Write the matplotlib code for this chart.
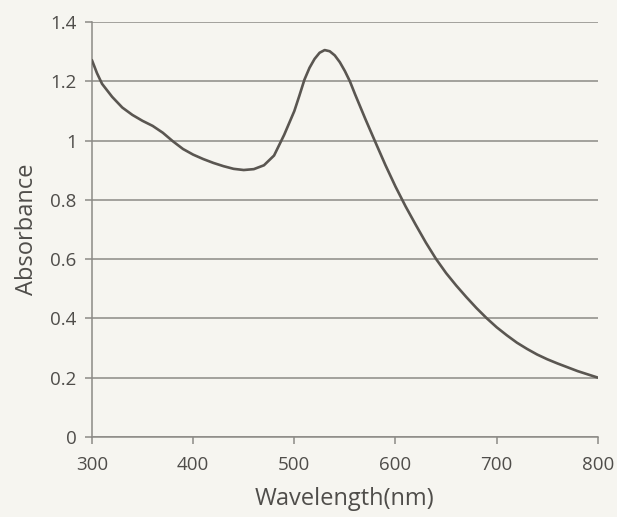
import matplotlib.pyplot as plt

# absorbance spectrum
wavelength = [300, 305, 310, 320, 330, 340, 350, 360, 370, 380, 390, 400, 410,
              420, 430, 440, 450, 460, 470, 480, 490, 500, 505, 510, 515, 520,
              525, 530, 535, 540, 545, 550, 555, 560, 570, 580, 590, 600, 610,
              620, 630, 640, 650, 660, 670, 680, 690, 700, 710, 720, 730, 740,
              750, 760, 770, 780, 790, 800]
absorbance = [1.272, 1.228, 1.192, 1.148, 1.112, 1.087, 1.067, 1.050, 1.027,
              0.998, 0.972, 0.953, 0.938, 0.925, 0.914, 0.905, 0.901, 0.904,
              0.917, 0.950, 1.020, 1.100, 1.152, 1.206, 1.246, 1.276, 1.297,
              1.306, 1.302, 1.288, 1.265, 1.235, 1.200, 1.157, 1.075, 0.996,
              0.918, 0.845, 0.778, 0.716, 0.656, 0.601, 0.553, 0.511, 0.472,
              0.435, 0.401, 0.370, 0.343, 0.318, 0.297, 0.278, 0.262, 0.248,
              0.235, 0.222, 0.211, 0.200]

x_ticks = [300, 400, 500, 600, 700, 800]
y_ticks = [0, 0.2, 0.4, 0.6, 0.8, 1.0, 1.2, 1.4]
y_labels = ["0", "0.2", "0.4", "0.6", "0.8", "1", "1.2", "1.4"]

plt.rcParams['font.family'] = ['Open Sans', 'DejaVu Sans']

bg = "#f6f5f0"
grid_col = "#8c8a86"
text_col = "#4f4d4a"

fig = plt.figure(figsize=(6.17, 5.17), dpi=100, facecolor=bg)
ax = fig.add_axes([0.149, 0.155, 0.820, 0.802])
ax.set_facecolor(bg)

ax.plot(wavelength, absorbance, color="#5a5651", linewidth=1.9,
        solid_capstyle="round", solid_joinstyle="round", zorder=3)

ax.set_xlim(300, 800)
ax.set_ylim(0, 1.4)
ax.set_xticks(x_ticks)
ax.set_yticks(y_ticks)
ax.set_yticklabels(y_labels)

ax.yaxis.grid(True, color=grid_col, linewidth=1.1)
ax.set_axisbelow(True)

for side in ["top", "right"]:
    ax.spines[side].set_visible(False)
for side in ["left", "bottom"]:
    ax.spines[side].set_color(grid_col)
    ax.spines[side].set_linewidth(1.1)

ax.tick_params(axis="both", colors=grid_col, length=5, width=1.1,
               labelcolor=text_col, labelsize=13.5)
ax.tick_params(axis="x", pad=9)
ax.tick_params(axis="y", pad=6)

ax.set_xlabel("Wavelength(nm)", fontsize=17, color=text_col, labelpad=9)
ax.set_ylabel("Absorbance", fontsize=17, color=text_col, labelpad=8)

fig.savefig("out.png", dpi=100, facecolor=bg)
